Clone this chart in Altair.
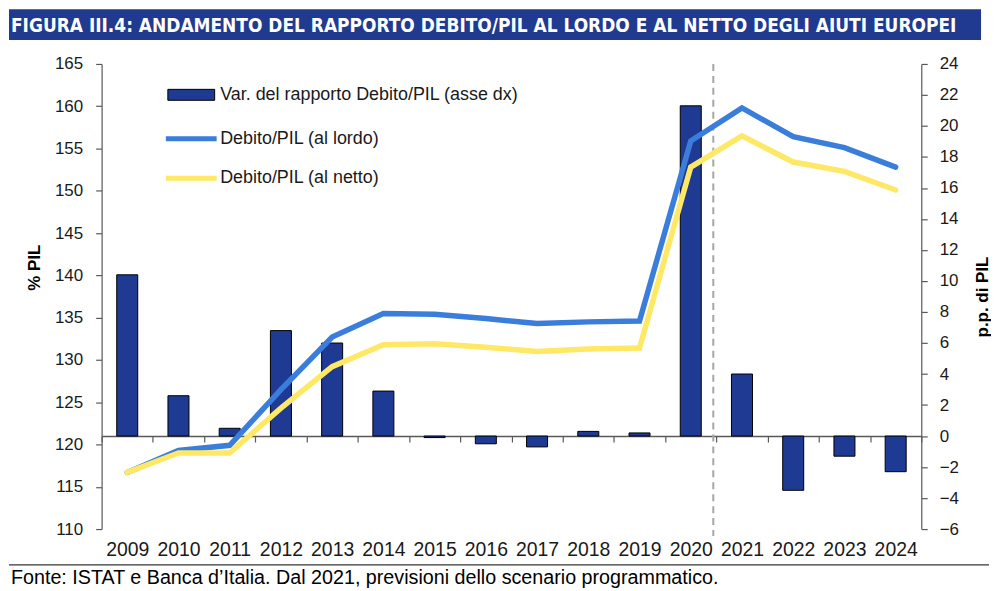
import json
import altair as alt
import pandas as pd

# ---------------- data ----------------
anni = [str(a) for a in range(2009, 2025)]
var_rapporto = [10.4, 2.6, 0.5, 6.8, 6.0, 2.9, -0.1, -0.5, -0.7, 0.3, 0.2, 21.3, 4.0, -3.5, -1.3, -2.3]
debito_lordo = [116.7, 119.3, 119.9, 126.5, 132.7, 135.5, 135.4, 134.9, 134.3, 134.5, 134.6,
                155.9, 159.8, 156.4, 155.1, 152.8]
debito_netto = [116.7, 119.0, 119.0, 124.3, 129.2, 131.8, 131.9, 131.5, 131.0, 131.3, 131.4,
                152.8, 156.5, 153.4, 152.3, 150.1]
tick_sx = list(range(110, 166, 5))
tick_dx = list(range(-6, 25, 2))
anno_separatore = ["2020"]

lbl_bar = "Var. del rapporto Debito/PIL (asse dx)"
lbl_lordo = "Debito/PIL (al lordo)"
lbl_netto = "Debito/PIL (al netto)"
titolo = "FIGURA III.4: ANDAMENTO DEL RAPPORTO DEBITO/PIL AL LORDO E AL NETTO DEGLI AIUTI EUROPEI"
fonte = "Fonte: ISTAT e Banca d\u2019Italia. Dal 2021, previsioni dello scenario programmatico."

# ---------------- layout / style ----------------
W, H = 823, 467
DX_MIN, DX_MAX = -6, 24
zero_offset = -H * (0 - DX_MIN) / (DX_MAX - DX_MIN)

FONT = "Liberation Sans"
NARROW = "DejaVu Sans Condensed"
TXT = "#1a1a1a"
AX = "#595959"

df = pd.DataFrame({"anno": anni, "var": var_rapporto, "lordo": debito_lordo, "netto": debito_netto})

x_scale = alt.Scale(domain=anni, paddingInner=0, paddingOuter=0)
x_axis = alt.Axis(orient="bottom", offset=zero_offset, domain=True, domainColor=AX, domainWidth=1.5,
                  ticks=True, tickBand="extent", tickSize=6, tickColor=AX, tickWidth=1.2,
                  labelAngle=0, labelPadding=99, labelFontSize=19.5, labelFont=FONT, labelColor=TXT,
                  grid=False, title=None)

y_left = alt.Axis(orient="left", values=tick_sx, grid=False, domainColor=AX, domainWidth=1.2,
                  tickColor=AX, tickSize=6, tickWidth=1.2, labelFontSize=17, labelFont=FONT,
                  labelColor=TXT, labelPadding=13, title="% PIL", titleFont=FONT, titleFontSize=17,
                  titleFontWeight="bold", titleColor="black", titlePadding=11, titleY=204)
y_right = alt.Axis(orient="right", values=tick_dx, grid=False, domainColor=AX, domainWidth=1.2,
                   tickColor=AX, tickSize=6, tickWidth=1.2, labelFontSize=17, labelFont=FONT,
                   labelColor=TXT, labelPadding=12, title="p.p. di PIL", titleFont=FONT,
                   titleFontSize=17, titleFontWeight="bold", titleColor="black", titlePadding=33,
                   titleAngle=270)

X = alt.X("anno:N", scale=x_scale, axis=x_axis)

leg_bar = alt.Legend(orient="none", legendX=79.5, legendY=20.5, direction="vertical", title=None,
                     symbolType="M-2.35,-0.55H2.35V0.55H-2.35Z", symbolSize=400,
                     symbolStrokeColor="black", symbolStrokeWidth=1, labelFont=FONT,
                     labelFontSize=18, labelColor=TXT, labelOffset=18.5, labelLimit=500, padding=0)
leg_line = alt.Legend(orient="none", legendX=77.5, legendY=62.5, direction="vertical", title=None,
                      symbolType="M-2.55,0H2.55", symbolSize=400, symbolStrokeWidth=5,
                      labelFont=FONT, labelFontSize=18, labelColor=TXT, labelOffset=16.5,
                      labelLimit=500, rowPadding=16.7, padding=0)

base = alt.Chart(df)

bars = base.mark_bar(width=alt.RelativeBandSize(0.41), stroke="black", strokeWidth=1).transform_calculate(
    serie=json.dumps(lbl_bar)
).encode(
    x=X,
    y=alt.Y("var:Q", scale=alt.Scale(domain=[DX_MIN, DX_MAX], nice=False), axis=y_right),
    fill=alt.Fill("serie:N", scale=alt.Scale(domain=[lbl_bar], range=["#1F3A93"]), legend=leg_bar),
)

stroke_scale = alt.Scale(domain=[lbl_lordo, lbl_netto], range=["#3A7DDB", "#FFE866"])
y_sx_scale = alt.Scale(domain=[110, 165], nice=False, zero=False)

line_l = base.mark_line(strokeWidth=5.5, strokeCap="round").transform_calculate(
    serie=json.dumps(lbl_lordo)
).encode(
    x=X,
    y=alt.Y("lordo:Q", scale=y_sx_scale, axis=y_left),
    stroke=alt.Stroke("serie:N", scale=stroke_scale, legend=leg_line),
)
line_n = base.mark_line(strokeWidth=5.5, strokeCap="round").transform_calculate(
    serie=json.dumps(lbl_netto)
).encode(
    x=X,
    y=alt.Y("netto:Q", scale=y_sx_scale, axis=y_left),
    stroke=alt.Stroke("serie:N", scale=stroke_scale, legend=leg_line),
)
lines = alt.layer(line_l, line_n)

rule = alt.Chart(pd.DataFrame({"anno": anno_separatore})).mark_rule(
    color="#A6A6A6", strokeWidth=2, strokeDash=[7, 5]
).encode(
    x=alt.X("anno:N", scale=x_scale, axis=x_axis, bandPosition=0.94),
    y=alt.value(0), y2=alt.value(H + 7),
)

tdf = pd.DataFrame({"testo": [titolo]})
band = alt.Chart(tdf).mark_rect(color="#203A8F").encode(
    x=alt.value(-93), x2=alt.value(W + 60), y=alt.value(-55), y2=alt.value(-24)
)
title = alt.Chart(tdf).mark_text(align="left", baseline="alphabetic", font=NARROW, fontSize=19,
                                 fontWeight="bold", color="white").encode(
    x=alt.value(-91), y=alt.value(-32), text="testo:N"
)

fdf = pd.DataFrame({"testo": [fonte]})
sep = alt.Chart(fdf).mark_rule(color="black", strokeWidth=1).encode(
    x=alt.value(-93), x2=alt.value(W + 68), y=alt.value(H + 36)
)
footer = alt.Chart(fdf).mark_text(align="left", baseline="alphabetic", font=FONT, fontSize=19.8,
                                  color="black").encode(
    x=alt.value(-91), y=alt.value(H + 55), text="testo:N"
)

chart = alt.layer(band, title, bars, rule, lines, sep, footer).resolve_scale(
    y="independent"
).properties(width=W, height=H, padding=0, background="white").configure_view(stroke=None)

chart.save("out.html", embed_options={"renderer": "svg", "actions": False})
